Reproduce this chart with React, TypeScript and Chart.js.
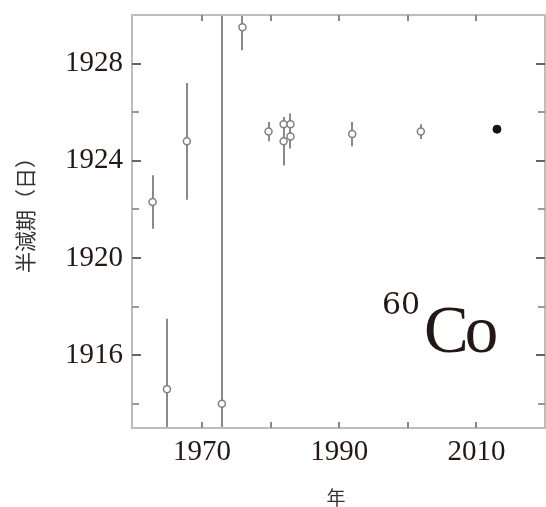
import React, { useEffect, useRef } from "react";
import { Chart, registerables } from "chart.js";

Chart.register(...registerables);

// measured half-life of 60Co (days) vs year of publication
const years = [1962.8, 1964.9, 1967.8, 1972.9, 1975.9, 1979.7, 1981.9, 1981.9, 1982.9, 1982.9, 1991.9, 2001.9];
const halfLives = [1922.3, 1914.6, 1924.8, 1914.0, 1929.5, 1925.2, 1925.5, 1924.8, 1925.5, 1925.0, 1925.1, 1925.2];
const uncertainties = [1.1, 2.9, 2.4, 20, 0.95, 0.4, 0.3, 1.0, 0.45, 0.5, 0.5, 0.3];

const latestYear = [2013.0];
const latestHalfLife = [1925.3];
const latestUncertainty = [0.1];

const xTickLabels = [1970, 1990, 2010];
const xTickMarks = [1970, 1980, 1990, 2000, 2010];
const yTickLabels = [1916, 1920, 1924, 1928];
const yMinorTicks = [1914, 1918, 1922, 1926];

const xTitle = "年";
const yTitle = "半減期（日）";
const nuclideMass = "60";
const nuclideSymbol = "Co";

const SERIF = "'Liberation Serif', 'Times New Roman', serif";
const WIDE_SERIF = "'DejaVu Serif', serif";
const CJK = "'Noto Sans CJK JP', 'Noto Sans', sans-serif";

const decorPlugin = {
  id: "decor",
  beforeDatasetsDraw(chart: any) {
    const { ctx, chartArea: a, scales } = chart;
    const xs = scales.x;
    const ys = scales.y;
    ctx.save();
    ctx.beginPath();
    ctx.rect(a.left, a.top, a.right - a.left, a.bottom - a.top);
    ctx.clip();
    ctx.strokeStyle = "#8a8a8a";
    ctx.lineWidth = 2;
    const drawBars = (xv: number[], yv: number[], ev: number[]) => {
      for (let i = 0; i < xv.length; i++) {
        const px = Math.round(xs.getPixelForValue(xv[i]));
        ctx.beginPath();
        ctx.moveTo(px, ys.getPixelForValue(yv[i] + ev[i]));
        ctx.lineTo(px, ys.getPixelForValue(yv[i] - ev[i]));
        ctx.stroke();
      }
    };
    drawBars(years, halfLives, uncertainties);
    drawBars(latestYear, latestHalfLife, latestUncertainty);
    ctx.restore();
  },
  afterDraw(chart: any) {
    const { ctx, chartArea: a, scales } = chart;
    const xs = scales.x;
    const ys = scales.y;
    ctx.save();
    // frame
    ctx.strokeStyle = "#bdbdbd";
    ctx.lineWidth = 2;
    ctx.strokeRect(a.left, a.top, a.right - a.left, a.bottom - a.top);
    // y ticks (inward, both sides)
    const yTick = (vals: number[], len: number, color: string) => {
      ctx.strokeStyle = color;
      ctx.lineWidth = 2;
      vals.forEach((v) => {
        const py = Math.round(ys.getPixelForValue(v));
        ctx.beginPath();
        ctx.moveTo(a.left, py);
        ctx.lineTo(a.left + len, py);
        ctx.moveTo(a.right, py);
        ctx.lineTo(a.right - len, py);
        ctx.stroke();
      });
    };
    yTick(yTickLabels, 9, "#666");
    yTick(yMinorTicks, 7, "#9a9a9a");
    // x ticks (inward, top and bottom)
    ctx.strokeStyle = "#888";
    ctx.lineWidth = 2;
    xTickMarks.forEach((v) => {
      const px = Math.round(xs.getPixelForValue(v));
      ctx.beginPath();
      ctx.moveTo(px, a.bottom);
      ctx.lineTo(px, a.bottom - 6);
      ctx.moveTo(px, a.top);
      ctx.lineTo(px, a.top + 6);
      ctx.stroke();
    });
    // axis titles
    ctx.fillStyle = "#333";
    ctx.textAlign = "center";
    ctx.textBaseline = "middle";
    ctx.font = `19px ${CJK}`;
    ctx.fillText(xTitle, 336, 498);
    ctx.font = `21px ${CJK}`;
    ctx.save();
    ctx.translate(25, 210);
    ctx.rotate(-Math.PI / 2);
    ctx.fillText(yTitle, 0, 0);
    ctx.restore();
    // nuclide label
    ctx.fillStyle = "#231815";
    ctx.textAlign = "left";
    ctx.textBaseline = "alphabetic";
    ctx.font = `30px ${WIDE_SERIF}`;
    ctx.fillText(nuclideMass, 382, 314);
    ctx.font = `67px ${SERIF}`;
    (ctx as any).letterSpacing = "-4px";
    ctx.fillText(nuclideSymbol, 424, 352);
    (ctx as any).letterSpacing = "0px";
    ctx.restore();
  },
};

export default function App() {
  const ref = useRef<HTMLCanvasElement>(null);
  useEffect(() => {
    if (!ref.current) return;
    const chart = new Chart(ref.current, {
      type: "scatter",
      data: {
        datasets: [
          {
            label: "measurements",
            data: years.map((x, i) => ({ x, y: halfLives[i] })),
            pointStyle: "circle",
            pointRadius: 3.5,
            pointBorderWidth: 1.5,
            pointBorderColor: "#808080",
            pointBackgroundColor: "#ffffff",
          },
          {
            label: "latest",
            data: latestYear.map((x, i) => ({ x, y: latestHalfLife[i] })),
            pointStyle: "circle",
            pointRadius: 4,
            pointBorderWidth: 1,
            pointBorderColor: "#111",
            pointBackgroundColor: "#111",
          },
        ],
      },
      options: {
        responsive: false,
        animation: false,
        layout: { autoPadding: false, padding: { top: 15, right: 1, left: 0, bottom: 0 } },
        plugins: { legend: { display: false }, tooltip: { enabled: false } },
        scales: {
          x: {
            type: "linear",
            min: 1959.8,
            max: 2020,
            grid: { display: false, drawTicks: false },
            border: { display: false },
            afterFit: (s: any) => {
              s.height = 79;
              s.paddingLeft = 0;
              s.paddingRight = 0;
            },
            afterBuildTicks: (s: any) => {
              s.ticks = xTickLabels.map((v) => ({ value: v }));
            },
            ticks: {
              color: "#231815",
              font: { family: SERIF, size: 29 },
              padding: 7,
              maxRotation: 0,
              callback: (v: any) => String(v),
            },
          },
          y: {
            type: "linear",
            min: 1913,
            max: 1930,
            grid: { display: false, drawTicks: false },
            border: { display: false },
            afterFit: (s: any) => {
              s.width = 132;
            },
            afterBuildTicks: (s: any) => {
              s.ticks = yTickLabels.map((v) => ({ value: v }));
            },
            ticks: {
              color: "#231815",
              font: { family: SERIF, size: 29, lineHeight: 0.4 },
              padding: 9,
              callback: (v: any) => String(v),
            },
          },
        },
      },
      plugins: [decorPlugin],
    });
    return () => chart.destroy();
  }, []);
  return (
    <div style={{ position: "absolute", left: 0, top: 0, width: 546, height: 507, background: "#fff" }}>
      <canvas ref={ref} width={546} height={507} />
    </div>
  );
}
